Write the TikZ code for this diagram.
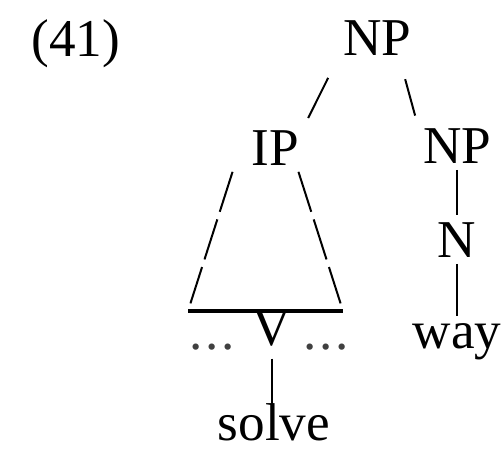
\documentclass[tikz,border=0pt]{standalone}
\usepackage{fontspec}
\setmainfont{Liberation Serif}
\usetikzlibrary{calc}

\begin{document}
\begin{tikzpicture}[
  x=0.25pt, y=-0.25pt,
  lbl/.style={anchor=base, inner sep=1.5pt, font=\fontsize{13.3}{16}\selectfont},
  edge/.style={line width=0.5pt, shorten <=4.5pt, shorten >=1.5pt},
  vedge/.style={line width=0.5pt},
  roof/.style={line width=0.5pt, dash pattern=on 10.5pt off 2pt, shorten >=2pt},
  roofbase/.style={line width=0.8pt}
]
\useasboundingbox (0,0) rectangle (502,451);
\node[lbl] (ex) at (76,56) {(41)};
\node[lbl] (np) at (377,55) {NP};
\node[lbl] (ip) at (275,165) {IP};
\node[lbl] (np2) at (457,163) {NP};
\node[lbl] (n) at (457,257) {N};
\node[lbl] (way) at (457,348) {way};
\node[lbl] (v) at (272,345) {V};
\node[lbl, text=black!75] (ldots) at (212,349) {.\kern0.6pt.\kern0.6pt.};
\node[lbl, text=black!75] (rdots) at (326,349) {.\kern0.6pt.\kern0.6pt.};
\node[lbl] (solve) at (274,440) {solve};
\coordinate (tl) at (188,311);
\coordinate (tr) at (343,311);

\draw[edge] (np.south west) -- (ip.north east);
\draw[edge] (np.-46) -- (np2.149);
\draw[vedge] (np2.south) -- (n.north);
\draw[vedge] (n.south) -- (way.north);
% roof over the IP
\draw[roof] ($(ip.south west)+(-12,0)$) -- (tl);
\draw[roof] ($(ip.south east)+(-7,0)$) -- (tr);
\draw[roofbase] (tl) -- (tr);
\draw[vedge, shorten <=1.5pt, shorten >=-2pt] (v.south) -- (v.south |- solve.north);
\end{tikzpicture}
\end{document}
